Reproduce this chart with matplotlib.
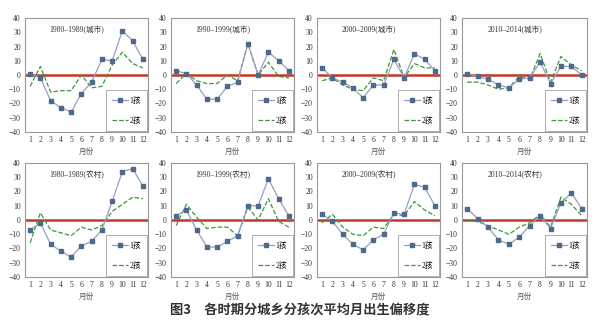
import matplotlib.pyplot as plt

plt.rcParams['font.family'] = ['Liberation Serif', 'Noto Sans CJK SC']

months = list(range(1, 13))
titles = ['1980–1989(城市)', '1990–1999(城市)', '2000–2009(城市)', '2010–2014(城市)',
          '1980–1989(农村)', '1990–1999(农村)', '2000–2009(农村)', '2010–2014(农村)']

# 1孩 / 2孩 monthly birth deviation (%)
child1 = [
    [1, -2, -18, -23, -26, -13, -5, 11, 10, 31, 24, 11],
    [3, 1, -7, -17, -17, -8, -5, 22, 0, 16, 10, 3],
    [5, -2, -5, -9, -16, -7, -7, 11, -2, 15, 11, 3],
    [1, -1, -3, -7, -9, -3, -2, 9, -6, 6, 6, 0],
    [-7, -2, -17, -22, -26, -18, -15, -7, 13, 34, 36, 24],
    [3, 7, -7, -19, -19, -15, -11, 10, 10, 29, 15, 3],
    [4, -1, -10, -17, -21, -14, -10, 5, 4, 25, 23, 10],
    [8, 1, -5, -14, -17, -12, -4, 3, -6, 12, 19, 8],
]
child2 = [
    [-8, 6, -12, -11, -11, 0, -9, -8, 7, 16, 8, 5],
    [-6, 1, -4, -6, -6, 0, -4, 22, 0, 9, -1, -2],
    [-4, -2, -7, -10, -11, -2, -4, 18, -2, 8, 5, 5],
    [-5, -5, -7, -10, -9, -1, -3, 15, -5, 13, 7, 3],
    [-16, 5, -7, -9, -11, -5, -7, -4, 6, 11, 16, 15],
    [-4, 11, 2, -6, -5, -5, -11, 9, 0, 15, -1, -5],
    [-2, 4, -5, -10, -11, -5, -6, 4, 3, 13, 7, 3],
    [0, -1, -4, -7, -10, -5, -2, 4, -5, 16, 11, 3],
]

fig = plt.figure(figsize=(6.0, 3.27), dpi=100)

lefts = [25, 171, 317, 462]
widths = [123, 123, 123, 125]
tops = [18, 163]
height = 114
W, H = 600, 327

for i in range(8):
    r, c = divmod(i, 4)
    ax = fig.add_axes([lefts[c] / W, 1 - (tops[r] + height) / H, widths[c] / W, height / H])
    ax.axhline(0, color='#c0392b', linewidth=1.8, zorder=1)
    ax.plot(months, child1[i], color='#9c9cc4', linewidth=0.9, marker='s', markersize=3,
            markerfacecolor='#4d6a8a', markeredgecolor='#4d6a8a', label='1孩', zorder=3)
    ax.plot(months, child2[i], color='#3a9a3a', linewidth=0.9, linestyle='--', label='2孩', zorder=2)
    ax.set_xlim(0.5, 12.5)
    ax.set_ylim(-40, 40)
    ax.set_xticks(months)
    ax.set_yticks(range(-40, 41, 10))
    ax.tick_params(labelsize=5.5, length=0, pad=3, colors='#333333')
    for s in ax.spines.values():
        s.set_color('#999999')
        s.set_linewidth(0.8)
    ax.text(0.42, 0.93, titles[i], transform=ax.transAxes, ha='center', va='top',
            fontsize=5.5, color='#333333')
    ax.set_xlabel('月份', fontsize=5.5, color='#555555', labelpad=3)
    leg = ax.legend(loc='lower right', fontsize=5.5, frameon=True, fancybox=False,
                    labelspacing=1.6, handlelength=2.0, borderpad=0.8, handletextpad=0.2,
                    borderaxespad=0.15)
    leg.get_frame().set_edgecolor('#888888')
    leg.get_frame().set_linewidth(0.6)

fig.text(0.5, 0.05, '图3　各时期分城乡分孩次平均月出生偏移度', ha='center', va='center',
         fontsize=9.5, fontweight='bold', color='#333333', family=['Noto Sans CJK SC'])

plt.savefig('out.png', dpi=100)
